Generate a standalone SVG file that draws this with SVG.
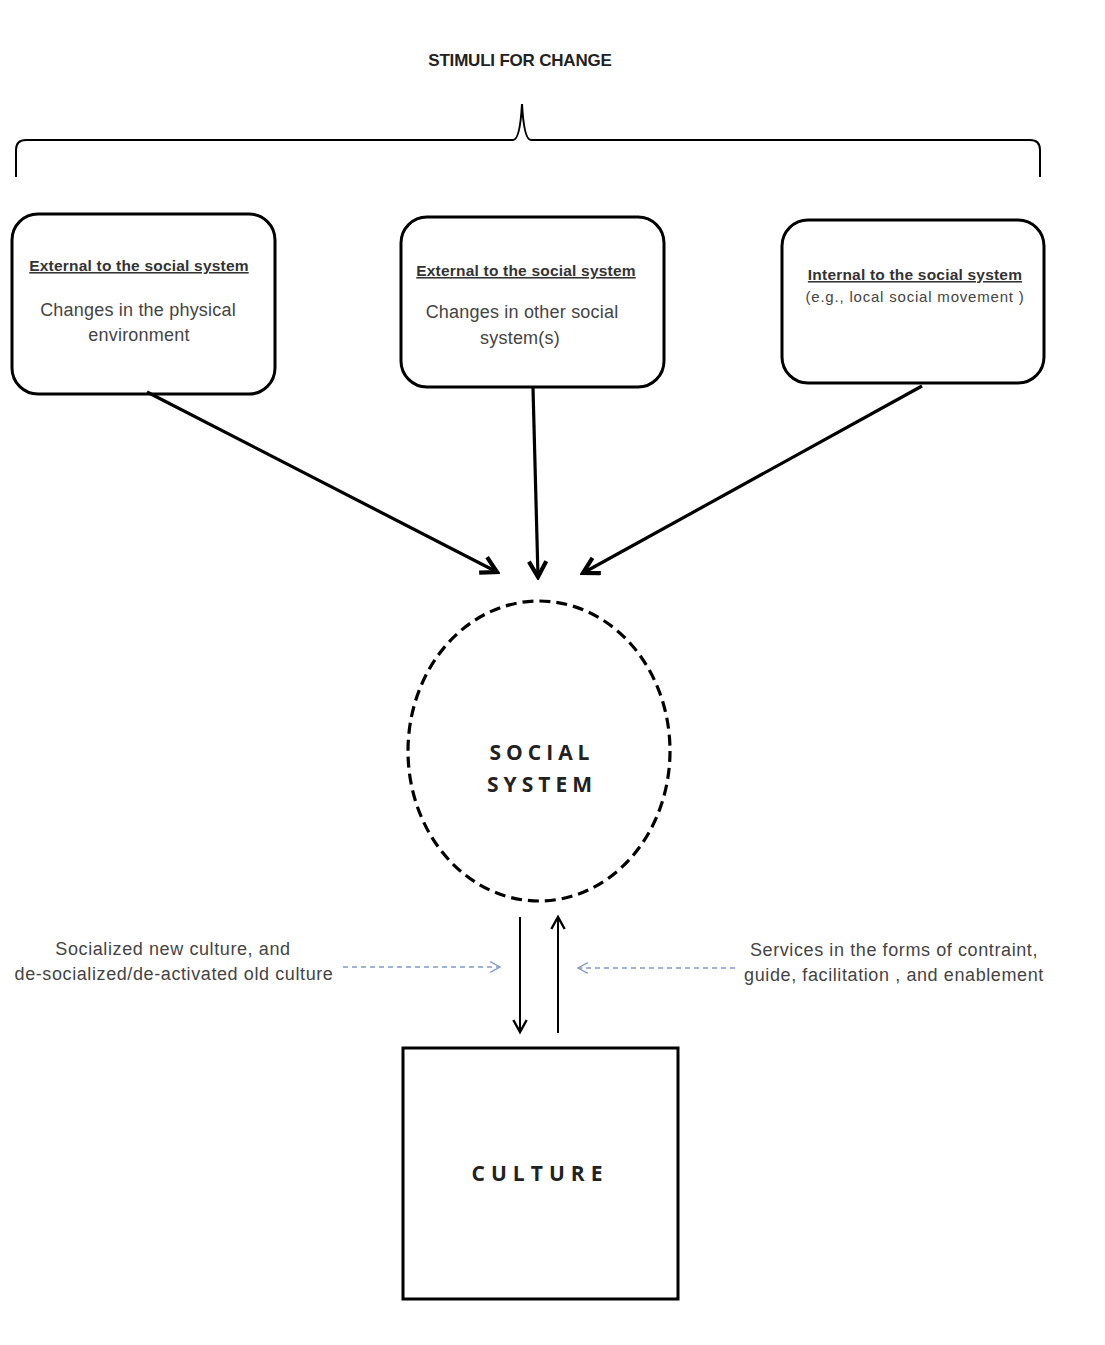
<svg xmlns="http://www.w3.org/2000/svg" width="1105" height="1345" viewBox="0 0 1105 1345">
  <style>
    .box { fill: #fff; stroke: #000; stroke-width: 3; }
    .wire { fill: none; stroke: #000; stroke-width: 3.2; }
    .thin { fill: none; stroke: #000; stroke-width: 2; }
    .dash { fill: none; stroke: #7f9cc4; stroke-width: 1.3; stroke-dasharray: 5 4; }
    .hdr { font-family: "Liberation Sans", Arial, sans-serif; font-size: 15.5px; font-weight: bold; fill: #333; text-decoration: underline; text-anchor: middle; letter-spacing: 0.2px; }
    .body { font-family: "Liberation Sans", Arial, sans-serif; font-size: 18px; fill: #444; text-anchor: middle; letter-spacing: 0.2px; }
    .side { font-family: "Liberation Sans", Arial, sans-serif; font-size: 18px; fill: #444; text-anchor: middle; letter-spacing: 0.6px; }
    .small { font-family: "Liberation Sans", Arial, sans-serif; font-size: 15px; fill: #444; text-anchor: middle; letter-spacing: 0.8px; }
    .big { font-family: "Open Sans", "Liberation Sans", sans-serif; font-size: 21px; font-weight: bold; fill: #222; text-anchor: middle; letter-spacing: 5px; }
  </style>
  <defs>
    <marker id="arr" viewBox="0 0 12 12" refX="10" refY="6" markerWidth="6.5" markerHeight="6.5" markerUnits="strokeWidth" orient="auto">
      <path d="M1,1 L10,6 L1,11" fill="none" stroke="#000" stroke-width="2.4"/>
    </marker>
    <marker id="arrThin" viewBox="0 0 12 12" refX="10" refY="6" markerWidth="8" markerHeight="8" markerUnits="strokeWidth" orient="auto">
      <path d="M1,1 L10,6 L1,11" fill="none" stroke="#000" stroke-width="1.8"/>
    </marker>
    <marker id="arrBlue" viewBox="0 0 12 12" refX="10" refY="6" markerWidth="10" markerHeight="10" markerUnits="strokeWidth" orient="auto">
      <path d="M1,1 L10,6 L1,11" fill="none" stroke="#7f9cc4" stroke-width="1.2"/>
    </marker>
  </defs>

  <rect width="1105" height="1345" fill="#fff"/>

  <!-- heading and brace -->
  <g id="stimuli">
    <text x="520" y="66" style="font-family:'Liberation Sans',Arial,sans-serif;font-size:17px;font-weight:bold;fill:#222;text-anchor:middle;letter-spacing:-0.2px">STIMULI FOR CHANGE</text>
    <path class="thin" d="M16,177 L16,150 Q16,140 26,140 L513,140 Q520,140 522,104 Q524,140 531,140 L1030,140 Q1040,140 1040,150 L1040,177"/>
  </g>

  <g id="node-physical">
    <rect class="box" x="12" y="214" width="263" height="180" rx="26"/>
    <text class="hdr" x="139" y="271">External to the social system</text>
    <text class="body" x="138" y="316">Changes in the physical</text>
    <text class="body" x="139" y="341">environment</text>
  </g>

  <g id="node-other">
    <rect class="box" x="401" y="217" width="263" height="170" rx="26"/>
    <text class="hdr" x="526" y="276">External to the social system</text>
    <text class="body" x="522" y="318">Changes in other social</text>
    <text class="body" x="520" y="344">system(s)</text>
  </g>

  <g id="node-internal">
    <rect class="box" x="782" y="220" width="262" height="163" rx="26"/>
    <text class="hdr" x="915" y="280">Internal to the social system</text>
    <text class="small" x="915" y="302">(e.g., local social movement )</text>
  </g>

  <g id="node-social-system">
    <ellipse cx="539" cy="751" rx="131" ry="150" fill="none" stroke="#000" stroke-width="3.2" stroke-dasharray="11 6"/>
    <text class="big" x="542" y="760">SOCIAL</text>
    <text class="big" x="542" y="792">SYSTEM</text>
  </g>

  <g id="node-culture">
    <rect class="box" x="403" y="1048" width="275" height="251"/>
    <text class="big" x="540" y="1181" style="letter-spacing:6px">CULTURE</text>
  </g>

  <g id="labels">
    <text class="side" x="173" y="955">Socialized new culture, and</text>
    <text class="side" x="174" y="980">de-socialized/de-activated old culture</text>
    <text class="side" x="894" y="956">Services in the forms of contraint,</text>
    <text class="side" x="894" y="981">guide, facilitation , and enablement</text>
  </g>

  <g id="connectors">
    <line class="wire" x1="147" y1="392" x2="497" y2="572" marker-end="url(#arr)"/>
    <line class="wire" x1="533" y1="388" x2="538" y2="577" marker-end="url(#arr)"/>
    <line class="wire" x1="922" y1="386" x2="583" y2="573" marker-end="url(#arr)"/>
    <line class="thin" x1="520" y1="917" x2="520" y2="1032" marker-end="url(#arrThin)"/>
    <line class="thin" x1="558" y1="1033" x2="558" y2="917" marker-end="url(#arrThin)"/>
    <line class="dash" x1="343" y1="967" x2="500" y2="967" marker-end="url(#arrBlue)"/>
    <line class="dash" x1="735" y1="968" x2="578" y2="968" marker-end="url(#arrBlue)"/>
  </g>
</svg>
